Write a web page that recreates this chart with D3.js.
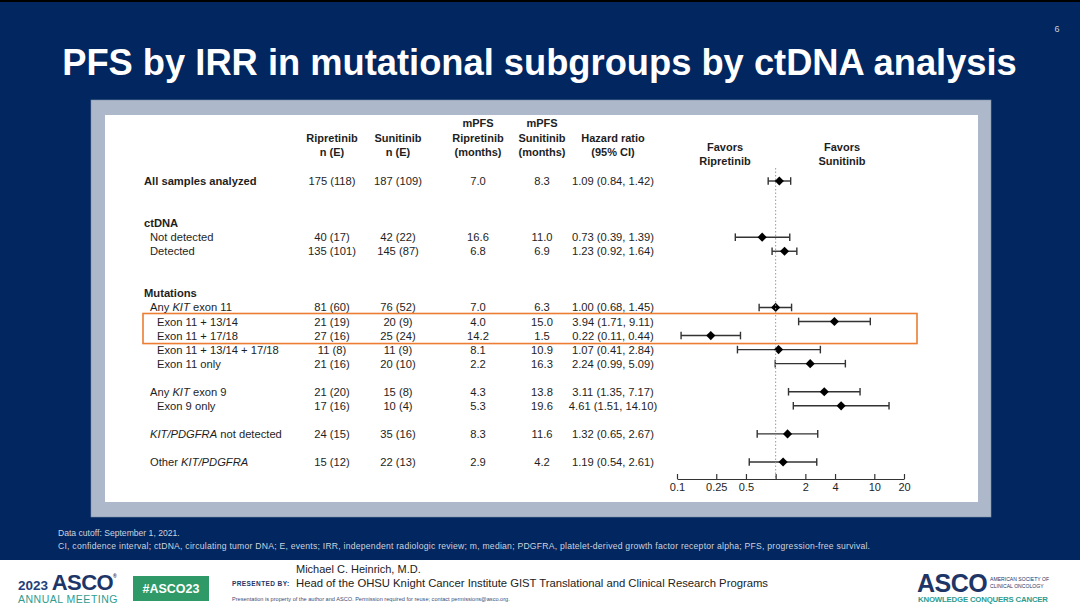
<!DOCTYPE html>
<html>
<head>
<meta charset="utf-8">
<script src="https://cdn.jsdelivr.net/npm/d3@7/dist/d3.min.js"></script>
<style>
  body { margin: 0; padding: 0; background: #fff; }
  svg { display: block; font-family: "Liberation Sans", Arial, sans-serif; }
</style>
</head>
<body>
<div id="chart"></div>
<script>
// row order of the table, "" = empty spacer row
var layout = ["All samples analyzed", "", "", "ctDNA", "Not detected", "Detected", "", "",
  "Mutations", "Any *KIT* exon 11", "Exon 11 + 13/14", "Exon 11 + 17/18",
  "Exon 11 + 13/14 + 17/18", "Exon 11 only", "", "Any *KIT* exon 9", "Exon 9 only", "",
  "*KIT/PDGFRA* not detected", "", "Other *KIT/PDGFRA*"];
var headings = ["All samples analyzed", "ctDNA", "Mutations"];

var subgroups = ["All samples analyzed", "Not detected", "Detected", "Any *KIT* exon 11",
  "Exon 11 + 13/14", "Exon 11 + 17/18", "Exon 11 + 13/14 + 17/18", "Exon 11 only",
  "Any *KIT* exon 9", "Exon 9 only", "*KIT/PDGFRA* not detected", "Other *KIT/PDGFRA*"];
var level = [0, 1, 1, 1, 2, 2, 2, 2, 1, 2, 1, 1];
var ripretinibN = ["175 (118)", "40 (17)", "135 (101)", "81 (60)", "21 (19)", "27 (16)",
  "11 (8)", "21 (16)", "21 (20)", "17 (16)", "24 (15)", "15 (12)"];
var sunitinibN = ["187 (109)", "42 (22)", "145 (87)", "76 (52)", "20 (9)", "25 (24)",
  "11 (9)", "20 (10)", "15 (8)", "10 (4)", "35 (16)", "22 (13)"];
var mpfsRipretinib = [7.0, 16.6, 6.8, 7.0, 4.0, 14.2, 8.1, 2.2, 4.3, 5.3, 8.3, 2.9];
var mpfsSunitinib = [8.3, 11.0, 6.9, 6.3, 15.0, 1.5, 10.9, 16.3, 13.8, 19.6, 11.6, 4.2];
var hazardRatio = [1.09, 0.73, 1.23, 1.00, 3.94, 0.22, 1.07, 2.24, 3.11, 4.61, 1.32, 1.19];
var ciLower = [0.84, 0.39, 0.92, 0.68, 1.71, 0.11, 0.41, 0.99, 1.35, 1.51, 0.65, 0.54];
var ciUpper = [1.42, 1.39, 1.64, 1.45, 9.11, 0.44, 2.84, 5.09, 7.17, 14.10, 2.67, 2.61];
var highlighted = ["Exon 11 + 13/14", "Exon 11 + 17/18"];

var tickValues = [0.1, 0.25, 0.5, 1, 2, 4, 10, 20];
var columnHeaders = [["Ripretinib", "n (E)"], ["Sunitinib", "n (E)"],
  ["mPFS", "Ripretinib", "(months)"], ["mPFS", "Sunitinib", "(months)"],
  ["Hazard ratio", "(95% CI)"]];

var W = 1080, H = 612;
var navy = "#012660", ink = "#1e1e1e";

var svg = d3.select("#chart").append("svg")
  .attr("width", W).attr("height", H);

// slide background
svg.append("rect").attr("width", W).attr("height", 560).attr("fill", navy);
svg.append("rect").attr("width", W).attr("height", 2).attr("fill", "#000");
svg.append("rect").attr("y", 560).attr("width", W).attr("height", 52).attr("fill", "#fff");

svg.append("text")
  .attr("x", 1057).attr("y", 32)
  .attr("text-anchor", "middle")
  .attr("fill", "#c9cfdb").attr("font-size", 9)
  .text("6");

svg.append("text")
  .attr("x", 539.5).attr("y", 75)
  .attr("text-anchor", "middle")
  .attr("fill", "#fff").attr("font-size", 36.3).attr("font-weight", "bold")
  .text("PFS by IRR in mutational subgroups by ctDNA analysis");

// framed panel
svg.append("rect")
  .attr("x", 91).attr("y", 100).attr("width", 900).attr("height", 417)
  .attr("fill", "#adb9ca").attr("stroke", "#7f90a8").attr("stroke-width", 0.6);
svg.append("rect")
  .attr("x", 105).attr("y", 115).attr("width", 873).attr("height", 387)
  .attr("fill", "#fff");

var panel = svg.append("g");

var yScale = d3.scalePoint()
  .domain(d3.range(layout.length))
  .range([181, 462]);
function rowY(label) { return yScale(layout.indexOf(label)); }

var xScale = d3.scaleLog()
  .domain([0.1, 20])
  .range([677, 904]);

var colX = [332, 398, 478, 542, 613];
var indentX = d3.scaleOrdinal().domain([0, 1, 2]).range([144, 150, 157]);

// write label with *italic* parts
function richText(sel, str) {
  str.split("*").forEach(function (part, i) {
    if (part === "") return;
    sel.append("tspan")
      .attr("font-style", i % 2 ? "italic" : null)
      .text(part);
  });
}

// column headers
columnHeaders.forEach(function (lines, c) {
  var t = panel.append("text")
    .attr("x", colX[c])
    .attr("text-anchor", "middle")
    .attr("font-size", 11).attr("font-weight", "bold").attr("fill", ink);
  var startY = 152 - (lines.length - 1) * 14.5;
  lines.forEach(function (ln, i) {
    t.append("tspan").attr("x", colX[c]).attr("y", startY + i * 14.5 + 4).text(ln);
  });
});

["Ripretinib", "Sunitinib"].forEach(function (drug, i) {
  var t = panel.append("text")
    .attr("text-anchor", "middle")
    .attr("font-size", 11).attr("font-weight", "bold").attr("fill", ink);
  t.append("tspan").attr("x", [725, 842][i]).attr("y", 151).text("Favors");
  t.append("tspan").attr("x", [725, 842][i]).attr("y", 165).text(drug);
});

// section headings
headings.forEach(function (h) {
  panel.append("text")
    .attr("x", indentX(0)).attr("y", rowY(h) + 4)
    .attr("font-size", 11.2).attr("font-weight", "bold").attr("fill", ink)
    .text(h);
});

// highlight box
var hiTop = rowY(highlighted[0]) - 8,
    hiBot = rowY(highlighted[highlighted.length - 1]) + 8;
panel.append("rect")
  .attr("x", 143).attr("y", hiTop)
  .attr("width", 917 - 143).attr("height", hiBot - hiTop)
  .attr("fill", "none").attr("stroke", "#ec7d32").attr("stroke-width", 1.6);

var fmt1 = d3.format(".1f"), fmt2 = d3.format(".2f");

var rows = panel.selectAll("g.row")
  .data(subgroups)
  .enter().append("g")
  .attr("class", "row")
  .attr("transform", function (d) { return "translate(0," + rowY(d) + ")"; });

rows.each(function (d, i) {
  var g = d3.select(this);
  if (headings.indexOf(d) < 0) {
    var lab = g.append("text")
      .attr("x", indentX(level[i])).attr("y", 4)
      .attr("font-size", 11.2).attr("fill", ink);
    richText(lab, d);
  }
  var cells = [ripretinibN[i], sunitinibN[i], fmt1(mpfsRipretinib[i]), fmt1(mpfsSunitinib[i]),
    fmt2(hazardRatio[i]) + " (" + fmt2(ciLower[i]) + ", " + fmt2(ciUpper[i]) + ")"];
  cells.forEach(function (txt, c) {
    g.append("text")
      .attr("x", colX[c]).attr("y", 4)
      .attr("text-anchor", "middle")
      .attr("font-size", 11.2).attr("fill", ink)
      .text(txt);
  });
});

// reference line at HR = 1
var axisY = 479;
panel.append("line")
  .attr("x1", xScale(1)).attr("x2", xScale(1))
  .attr("y1", 168).attr("y2", axisY)
  .attr("stroke", "#9a9a9a").attr("stroke-width", 1)
  .attr("stroke-dasharray", "1.5,2");

// error bars
rows.append("line")
  .attr("x1", function (d, i) { return xScale(ciLower[i]); })
  .attr("x2", function (d, i) { return xScale(ciUpper[i]); })
  .attr("stroke", "#333").attr("stroke-width", 1.4);
[ciLower, ciUpper].forEach(function (arr) {
  rows.append("line")
    .attr("x1", function (d, i) { return xScale(arr[i]); })
    .attr("x2", function (d, i) { return xScale(arr[i]); })
    .attr("y1", -3.8).attr("y2", 3.8)
    .attr("stroke", "#333").attr("stroke-width", 1.4);
});
rows.append("path")
  .attr("d", d3.symbol().type(d3.symbolSquare).size(42))
  .attr("transform", function (d, i) {
    return "translate(" + xScale(hazardRatio[i]) + ",0) rotate(45)";
  })
  .attr("fill", "#000");

// x axis
var xAxis = d3.axisBottom(xScale)
  .tickValues(tickValues)
  .tickSizeInner(-5).tickSizeOuter(0).tickPadding(4)
  .tickFormat(function (d) { return d === 1 ? "" : String(d); });

var ax = panel.append("g")
  .attr("transform", "translate(0," + axisY + ")")
  .call(xAxis);
ax.select(".domain").attr("stroke", "#333").attr("stroke-width", 1.2);
ax.selectAll(".tick line").attr("stroke", "#333").attr("stroke-width", 1.2);
ax.selectAll(".tick text")
  .attr("font-family", "Liberation Sans, Arial, sans-serif")
  .attr("font-size", 11).attr("fill", ink);

// footnotes
var notes = ["Data cutoff: September 1, 2021.",
  "CI, confidence interval; ctDNA, circulating tumor DNA; E, events; IRR, independent radiologic review; m, median; PDGFRA, platelet-derived growth factor receptor alpha; PFS, progression-free survival."];
svg.append("text")
  .attr("x", 58).attr("y", 536)
  .attr("font-size", 8.6).attr("fill", "#cdd3de")
  .text(notes[0]);
svg.append("text")
  .attr("x", 58).attr("y", 549)
  .attr("font-size", 8.6).attr("fill", "#cdd3de")
  .attr("textLength", 812).attr("lengthAdjust", "spacing")
  .text(notes[1]);

// bottom strip
var foot = svg.append("g");
foot.append("text").attr("x", 18).attr("y", 590)
  .attr("font-weight", "bold").attr("fill", "#1d3667")
  .call(function (t) {
    t.append("tspan").attr("font-size", 13.5).attr("fill", "#23407a").text("2023 ");
    t.append("tspan").attr("font-size", 22).attr("letter-spacing", -0.6).text("ASCO");
    t.append("tspan").attr("font-size", 5).attr("dy", -12).text("®");
  });
foot.append("text").attr("x", 18).attr("y", 603)
  .attr("font-size", 10.5).attr("fill", "#2f9c8e").attr("letter-spacing", 0.5)
  .text("ANNUAL MEETING");

foot.append("rect").attr("x", 133).attr("y", 576).attr("width", 76).attr("height", 25)
  .attr("fill", "#2f9a67");
foot.append("text").attr("x", 171).attr("y", 593)
  .attr("text-anchor", "middle").attr("font-size", 12.5).attr("font-weight", "bold")
  .attr("fill", "#fff").text("#ASCO23");

foot.append("text").attr("x", 296).attr("y", 573)
  .attr("font-size", 11).attr("fill", "#222").text("Michael C. Heinrich,  M.D.");
foot.append("text").attr("x", 232).attr("y", 586)
  .attr("font-size", 6.5).attr("font-weight", "bold").attr("fill", "#1d3667")
  .attr("letter-spacing", 0.4).text("PRESENTED BY:");
foot.append("text").attr("x", 296).attr("y", 587)
  .attr("font-size", 11.3).attr("fill", "#222")
  .attr("textLength", 472).attr("lengthAdjust", "spacing")
  .text("Head of the OHSU Knight Cancer Institute GIST Translational and Clinical Research Programs");
foot.append("text").attr("x", 232).attr("y", 601)
  .attr("font-size", 5.6).attr("fill", "#3a4d78")
  .text("Presentation is property of the author and ASCO. Permission required for reuse; contact permissions@asco.org.");

foot.append("text").attr("x", 917).attr("y", 592)
  .attr("font-size", 25).attr("font-weight", "bold").attr("fill", "#1d3667")
  .attr("letter-spacing", -0.5).text("ASCO");
foot.append("text").attr("x", 990).attr("y", 581)
  .attr("font-size", 5.1).attr("fill", "#1d3667").text("AMERICAN SOCIETY OF");
foot.append("text").attr("x", 990).attr("y", 588)
  .attr("font-size", 5.1).attr("fill", "#1d3667").text("CLINICAL ONCOLOGY");
foot.append("text").attr("x", 918).attr("y", 602)
  .attr("font-size", 7.8).attr("font-weight", "bold").attr("fill", "#2f9c8e")
  .attr("textLength", 130).attr("lengthAdjust", "spacing")
  .text("KNOWLEDGE CONQUERS CANCER");
</script>
</body>
</html>
